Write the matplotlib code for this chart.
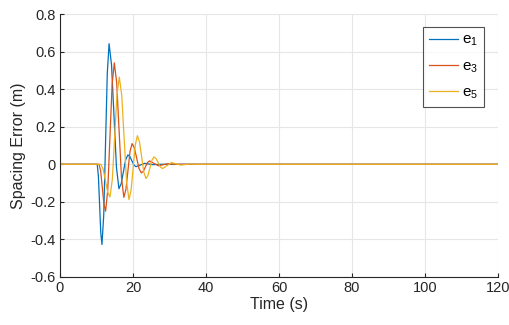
import matplotlib
matplotlib.use("Agg")
import matplotlib.pyplot as plt

plt.rcParams["font.family"] = ["Liberation Sans", "DejaVu Sans"]
plt.rcParams["mathtext.fontset"] = "custom"
plt.rcParams["mathtext.rm"] = "Liberation Sans"
plt.rcParams["mathtext.it"] = "Liberation Sans"

# spacing error of vehicle 1
t_e1 = [0, 10.2, 10.525, 10.85, 11.175, 11.5, 11.9875, 12.475, 12.9625, 13.45,
        14.125, 14.8, 15.475, 16.15, 16.7625, 17.375, 17.9875, 18.6,
        19.15, 19.7, 20.25, 20.8, 22.0, 23.2, 25.5, 27.5, 120]
e1 = [0, 0, -0.0625, -0.2135, -0.3645, -0.427, -0.2705, 0.1075, 0.4855, 0.642,
      0.529, 0.256, -0.017, -0.13, -0.1036, -0.04, 0.0237, 0.05,
      0.0408, 0.0185, -0.0038, -0.013, -0.004, 0.005, -0.002, 0, 0]

# vehicle 3
t_e3 = [0, 10.7, 11.15, 11.6, 12.05, 12.5, 13.095, 13.69, 14.285, 14.88,
        15.535, 16.19, 16.845, 17.5, 18.0625, 18.625, 19.1875, 19.75,
        20.3875, 21.025, 21.6625, 22.3, 22.85, 23.4, 23.95, 24.5,
        25.75, 27.0, 28.25, 29.5, 32.0, 120]
e3 = [0, 0, -0.0366, -0.125, -0.2134, -0.25, -0.1343, 0.145, 0.4243, 0.54,
      0.4352, 0.182, -0.0712, -0.176, -0.1341, -0.033, 0.0681, 0.11,
      0.0872, 0.032, -0.0232, -0.046, -0.0366, -0.014, 0.0086, 0.018,
      0.005, -0.008, -0.0025, 0.003, 0, 0]

# vehicle 5
t_e5 = [0, 11.2, 11.825, 12.45, 13.075, 13.7, 14.3375, 14.975, 15.6125, 16.25,
        16.9125, 17.575, 18.2375, 18.9, 19.475, 20.05, 20.625, 21.2,
        21.79, 22.38, 22.97, 23.56, 24.1075, 24.655, 25.2025, 25.75,
        26.3375, 26.925, 27.5125, 28.1, 29.35, 30.6, 31.8, 33.0, 35.5, 37.5, 120]
e5 = [0, 0, -0.0255, -0.087, -0.1485, -0.174, -0.0806, 0.145, 0.3706, 0.464,
      0.3685, 0.138, -0.0925, -0.188, -0.1382, -0.018, 0.1022, 0.152,
      0.1186, 0.038, -0.0426, -0.076, -0.0592, -0.0185, 0.0222, 0.039,
      0.0299, 0.008, -0.0139, -0.023, -0.007, 0.009, 0.0025, -0.004, 0.001, 0, 0]

labels = ["e$_1$", "e$_3$", "e$_5$"]
colors = ["#0072BD", "#D95319", "#EDB120"]
x_ticks = [0, 20, 40, 60, 80, 100, 120]
y_ticks = [-0.6, -0.4, -0.2, 0, 0.2, 0.4, 0.6, 0.8]

fig = plt.figure(figsize=(5.1, 3.25), dpi=100)
ax = fig.add_axes([0.1176, 0.1477, 0.8589, 0.8092])

for t, e, lab, c in zip([t_e1, t_e3, t_e5], [e1, e3, e5], labels, colors):
    ax.plot(t, e, color=c, lw=0.9, label=lab, solid_joinstyle="round")

ax.set_xlim(0, 120)
ax.set_ylim(-0.6, 0.8)
ax.set_xticks(x_ticks)
ax.set_yticks(y_ticks)
ax.set_xticklabels([str(v) for v in x_ticks])
ax.set_yticklabels(["%g" % v for v in y_ticks])
ax.grid(True, color="#e6e6e6", lw=0.8)
ax.set_axisbelow(True)
for s in ["top", "right"]:
    ax.spines[s].set_visible(False)
for s in ["left", "bottom"]:
    ax.spines[s].set_color("#262626")
    ax.spines[s].set_linewidth(0.8)
ax.tick_params(direction="in", length=3, width=0.8, colors="#262626",
               labelsize=10.5, pad=3)
ax.set_xlabel("Time (s)", fontsize=11.5, color="#262626", labelpad=1)
ax.set_ylabel("Spacing Error (m)", fontsize=11.5, color="#262626", labelpad=3)

leg = ax.legend(loc="upper right", bbox_to_anchor=(0.968, 0.951), fontsize=11,
                frameon=True, fancybox=False, handlelength=1.9,
                labelspacing=0.72, borderpad=0.4, handletextpad=0.25,
                borderaxespad=0)
leg.get_frame().set_edgecolor("#262626")
leg.get_frame().set_linewidth(0.8)

fig.savefig("out.png", dpi=100)
